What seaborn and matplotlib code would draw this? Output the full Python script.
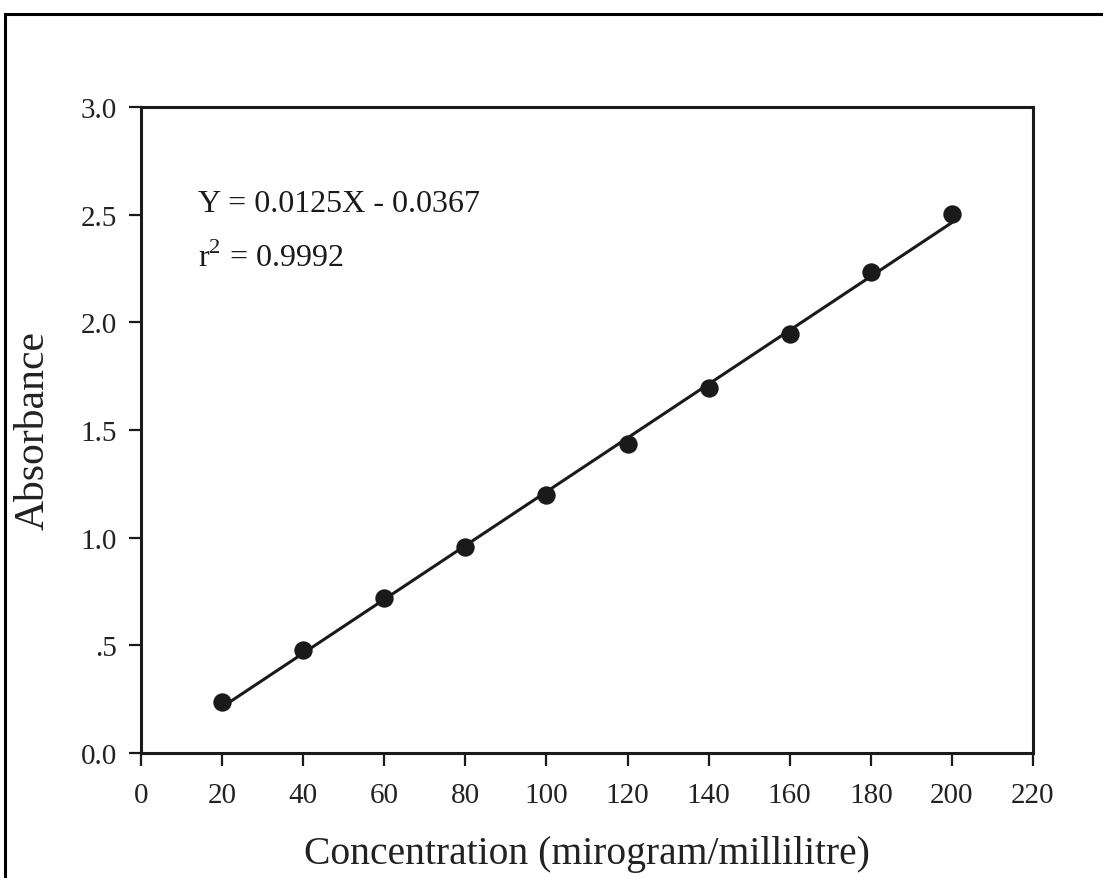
import numpy as np
import pandas as pd
import matplotlib
matplotlib.use("Agg")
import matplotlib.pyplot as plt
from matplotlib.patches import Rectangle
import seaborn as sns

# Calibration data
concentration = [20, 40, 60, 80, 100, 120, 140, 160, 180, 200]
absorbance = [0.239, 0.477, 0.721, 0.955, 1.199, 1.437, 1.696, 1.945, 2.234, 2.502]

# Linear fit reported on the chart
slope = 0.0125
intercept = -0.0367
r_squared = 0.9992

x_ticks = [0, 20, 40, 60, 80, 100, 120, 140, 160, 180, 200, 220]
y_ticks = [0.0, 0.5, 1.0, 1.5, 2.0, 2.5, 3.0]
y_tick_labels = ["0.0", ".5", "1.0", "1.5", "2.0", "2.5", "3.0"]

sns.set_theme(style="ticks")
plt.rcParams["font.family"] = ["Liberation Serif", "DejaVu Serif"]
plt.rcParams["mathtext.fontset"] = "custom"
plt.rcParams["mathtext.rm"] = "Liberation Serif"

ink = "#1a1a1a"
text_ink = "#222222"

fig = plt.figure(figsize=(11.03, 8.79), dpi=100)
fig.patch.set_facecolor("white")
ax = fig.add_axes([141 / 1103, 1 - 754 / 879, (1033 - 141) / 1103, (754 - 108) / 879])

df = pd.DataFrame({"conc": concentration, "abs": absorbance})
fit_x = np.array([concentration[0], concentration[-1]], dtype=float)
fit = pd.DataFrame({"conc": fit_x, "abs": slope * fit_x + intercept})

sns.lineplot(data=fit, x="conc", y="abs", ax=ax, color=ink, linewidth=2.2, zorder=2)
sns.scatterplot(data=df, x="conc", y="abs", ax=ax, color=ink, s=175,
                edgecolor=ink, linewidth=0, zorder=3)

ax.set_xlim(0, 220)
ax.set_ylim(0, 3.0)
ax.set_xticks(x_ticks)
ax.set_xticklabels([str(t) for t in x_ticks])
ax.set_yticks(y_ticks)
ax.set_yticklabels(y_tick_labels)

for side in ["left", "right", "top", "bottom"]:
    ax.spines[side].set_visible(True)
    ax.spines[side].set_linewidth(2.2)
    ax.spines[side].set_color(ink)

ax.tick_params(axis="both", direction="out", length=9, width=1.6, color=ink,
               labelsize=21, labelcolor=text_ink)
ax.tick_params(axis="x", pad=12)
ax.tick_params(axis="y", pad=8.5)
ax.xaxis.set_ticks_position("bottom")
ax.yaxis.set_ticks_position("left")

ax.set_xlabel("Concentration (mirogram/millilitre)", fontsize=28.5, color=text_ink, labelpad=19)
ax.set_ylabel("Absorbance", fontsize=30, color=text_ink, labelpad=20)

ax.text(0.064, 0.850, f"Y = {slope}X - {abs(intercept)}", transform=ax.transAxes,
        fontsize=23, color=ink, ha="left", va="center")
ax.text(0.064, 0.767, r"r$^{2}$" + f" = {r_squared}", transform=ax.transAxes,
        fontsize=23, color=ink, ha="left", va="center")

# Outer frame around the figure
fig.patches.append(Rectangle((5 / 1103, -0.05), 1.2, 1 - 15 / 879 + 0.05,
                             transform=fig.transFigure, fill=False,
                             edgecolor="black", linewidth=2.2))

fig.savefig("out.png", dpi=100, facecolor="white")
